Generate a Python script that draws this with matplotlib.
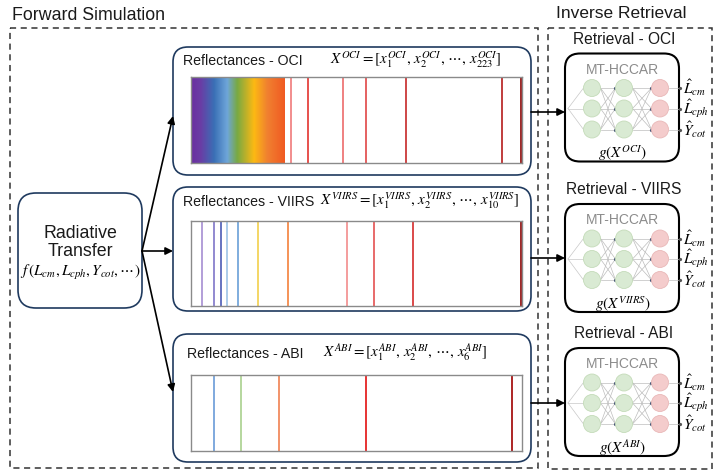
import matplotlib
matplotlib.use('Agg')
import matplotlib.pyplot as plt
from matplotlib.patches import FancyBboxPatch, Rectangle, Circle
from matplotlib.colors import LinearSegmentedColormap
import numpy as np

plt.rcParams['font.family'] = ['Liberation Sans', 'DejaVu Sans']
plt.rcParams['mathtext.fontset'] = 'stix'

# ---------------- data ----------------
sensors = ['OCI', 'VIIRS', 'ABI']
n_bands = {'OCI': '223', 'VIIRS': '10', 'ABI': '6'}
oci_band_pos = [0.303, 0.355, 0.460, 0.529, 0.650, 0.940, 0.9975]
oci_band_colors = ['#F07A7A', '#E3342F', '#EC6B6B', '#E04646', '#C62828', '#B51B1B', '#8B0000']
viirs_band_pos = [0.036, 0.072, 0.092, 0.111, 0.144, 0.205, 0.295, 0.472, 0.554, 0.671, 0.997]
viirs_band_colors = ['#A58DD2', '#7F75C8', '#4B5BB5', '#9DC3E6', '#6A9FD8', '#F2D04B',
                     '#F4803B', '#F28C8C', '#E45050', '#D42A2A', '#8B0000']
abi_band_pos = [0.071, 0.152, 0.268, 0.531, 0.970]
abi_band_colors = ['#6A9BD8', '#A9D18E', '#F08050', '#E31010', '#A00000']
gradient_stops = [0.0, 0.029, 0.069, 0.109, 0.139, 0.190, 0.230, 0.2825]
gradient_colors = ['#6A2FA0', '#6A3DA5', '#3A6FB5', '#6FA6DA', '#78A943', '#FDB913',
                   '#F08030', '#F15A22']
outputs = [r'$\hat{L}_{cm}$', r'$\hat{L}_{cph}$', r'$\hat{Y}_{cot}$']
bands = {'OCI': (oci_band_pos, oci_band_colors),
         'VIIRS': (viirs_band_pos, viirs_band_colors),
         'ABI': (abi_band_pos, abi_band_colors)}

# ---------------- layout ----------------
W, H = 714, 471
refl_boxes = {'OCI': (173, 47, 531, 175), 'VIIRS': (173, 187, 531, 311), 'ABI': (173, 334, 531, 462)}
strip_y = {'OCI': (77, 163), 'VIIRS': (221, 305.5), 'ABI': (375, 450.5)}
strip_x = (190.5, 521.5)
title_pos = {'OCI': (183, 61), 'VIIRS': (183, 202), 'ABI': (187, 354)}
formula_x = {'OCI': 330, 'VIIRS': 320, 'ABI': 323}
ret_mid = {'OCI': 108.5, 'VIIRS': 259, 'ABI': 403}
arrow_in_y = {'OCI': 116, 'VIIRS': 251, 'ABI': 392}
arrow_out_y = {'OCI': 112, 'VIIRS': 258, 'ABI': 403}
TXT = '#1A1A1A'

fig = plt.figure(figsize=(W / 100, H / 100), dpi=100)
ax = fig.add_axes([0, 0, 1, 1])
ax.set_xlim(0, W)
ax.set_ylim(H, 0)
ax.axis('off')

dash = (0, (4, 3))
ax.add_patch(Rectangle((10, 28), 528, 440, fill=False, ec='#333333', lw=1.1, ls=dash))
ax.add_patch(Rectangle((548, 28), 164, 441, fill=False, ec='#333333', lw=1.1, ls=dash))

ax.text(12, 15, 'Forward Simulation', fontsize=12.8, ha='left', va='center', color=TXT)
ax.text(621, 13.5, 'Inverse Retrieval', fontsize=12.5, ha='center', va='center', color=TXT)

def rbox(x0, y0, x1, y1, r, ec, lw):
    ax.add_patch(FancyBboxPatch((x0, y0), x1 - x0, y1 - y0,
                                boxstyle=f'round,pad=0,rounding_size={r}',
                                fc='white', ec=ec, lw=lw, zorder=2))

# Radiative transfer
rbox(18, 193, 142, 308, 18, '#1F3A5F', 1.2)
ax.text(80, 233, 'Radiative', fontsize=12.8, ha='center', va='center', color=TXT, zorder=3)
ax.text(80, 252, 'Transfer', fontsize=12.8, ha='center', va='center', color=TXT, zorder=3)
ax.text(80, 273, r'$f\,(L_{cm},L_{cph},Y_{cot},\cdots)$', fontsize=11,
        ha='center', va='center', zorder=3)

arrow_kw = dict(arrowstyle='-|>', color='black', lw=1.2, mutation_scale=11,
                shrinkA=0, shrinkB=0)

def draw_nn(mid, s):
    xs = [592, 624, 660]
    ys = [mid - 20.5, mid, mid + 21]
    r = 8.5
    x0 = 568
    for y in ys:
        ax.plot([x0, xs[0] - r], [mid, y], color='#C8C8C8', lw=0.5, zorder=3)
    for l in range(2):
        for y1 in ys:
            for y2 in ys:
                ax.plot([xs[l] + r, xs[l + 1] - r], [y1, y2], color='#BDBDBD', lw=0.5, zorder=3)
            ax.plot([xs[l + 1] - r - 0.5], [y1], marker='o', ms=1.3, color='#4A5A78', zorder=4)
    for i, y in enumerate(ys):
        for j, x in enumerate(xs):
            fc, ec = ('#F4CCCC', '#E9B8B8') if j == 2 else ('#D9EAD3', '#C4DBB9')
            ax.add_patch(Circle((x, y), r, fc=fc, ec=ec, lw=0.6, zorder=5))
        ax.plot([xs[2] + r, 680], [y, y], color='#BDBDBD', lw=0.5, zorder=3)
        ax.plot([680], [y], marker='o', ms=1.3, color='#555555', zorder=4)
        ax.text(683, y, outputs[i], fontsize=11, ha='left', va='center', zorder=6)

for s in sensors:
    x0, y0, x1, y1 = refl_boxes[s]
    rbox(x0, y0, x1, y1, 15, '#1F3A5F', 1.2)
    tx, ty = title_pos[s]
    ax.text(tx, ty, f'Reflectances - {s}', fontsize=10.2, ha='left', va='center',
            color=TXT, zorder=3)
    nb = n_bands[s]
    ax.text(formula_x[s], ty - 1,
            rf'$X^{{{s}}}=[x_1^{{{s}}},\,x_2^{{{s}}},\,\cdots,\,x_{{{nb}}}^{{{s}}}]$',
            fontsize=10.8, ha='left', va='center', zorder=3)
    ax.annotate('', xy=(173, arrow_in_y[s]), xytext=(142, 251), arrowprops=arrow_kw, zorder=4)
    ax.annotate('', xy=(565, arrow_out_y[s]), xytext=(531, arrow_out_y[s]),
                arrowprops=arrow_kw, zorder=4)

    sy0, sy1 = strip_y[s]
    sax = fig.add_axes([strip_x[0] / W, 1 - sy1 / H, (strip_x[1] - strip_x[0]) / W, (sy1 - sy0) / H])
    sax.set_xticks([])
    sax.set_yticks([])
    for sp in sax.spines.values():
        sp.set_color('#8A8A8A')
        sp.set_linewidth(1.0)
    if s == 'OCI':
        cmap = LinearSegmentedColormap.from_list(
            'spec', list(zip(np.array(gradient_stops) / gradient_stops[-1], gradient_colors)))
        sax.imshow(np.linspace(0, 1, 256)[None, :], cmap=cmap, aspect='auto',
                   extent=[0, gradient_stops[-1], 0, 1], zorder=1)
    sax.set_xlim(0, 1)
    sax.set_ylim(0, 1)
    pos, cols = bands[s]
    for p, c in zip(pos, cols):
        sax.axvline(p, color=c, lw=1.2, zorder=2)

    mid = ret_mid[s]
    ax.text(624, mid - 69, f'Retrieval - {s}', fontsize=11.2, ha='center', va='center',
            color=TXT, zorder=3)
    rbox(565, mid - 55, 679, mid + 53, 15, 'black', 1.5)
    ax.text(622, mid - 39, 'MT-HCCAR', fontsize=10, color='#8C8C8C', ha='center', va='center', zorder=6)
    ax.text(623, mid + 45, rf'$g(X^{{{s}}})$', fontsize=11, ha='center', va='center', zorder=6)
    draw_nn(mid, s)

fig.savefig('out.png', dpi=100)
